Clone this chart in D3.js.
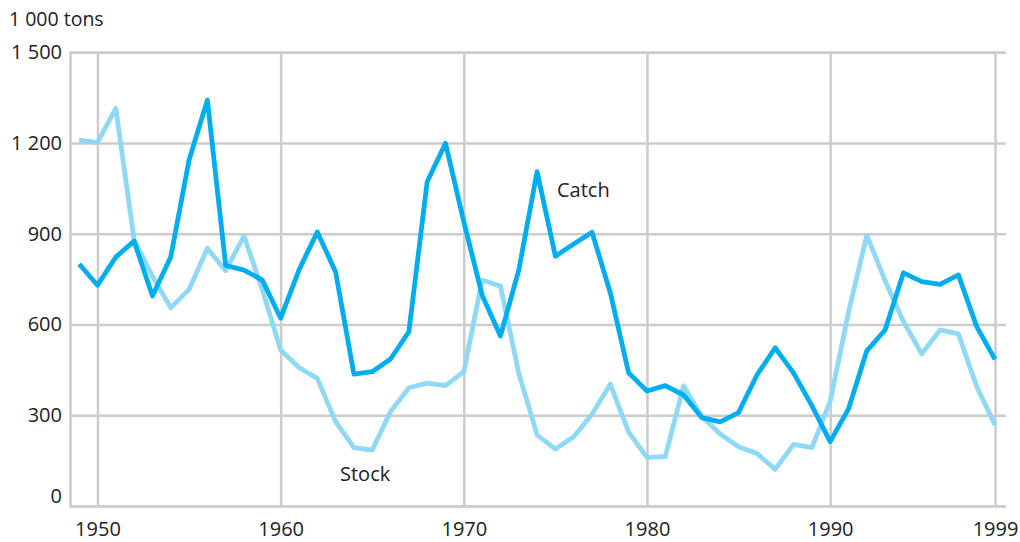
<!DOCTYPE html>
<html>
<head>
<meta charset="utf-8">
<script src="https://cdnjs.cloudflare.com/ajax/libs/d3/7.8.5/d3.min.js"></script>
<style>
  body { margin: 0; background: #fff; }
  svg text { font-family: "Open Sans", "Noto Sans", sans-serif; fill: #222; }
</style>
</head>
<body>
<div id="chart"></div>
<script>
// data (1 000 tons)
var years = d3.range(1949, 2000);
var catchVals = [800, 730, 823, 876, 694, 823, 1144, 1342, 795, 780,
  747, 621, 780, 906, 774, 436, 444, 486, 576, 1072,
  1199, 940, 697, 562, 780, 1105, 826, 866, 905, 704,
  440, 380, 398, 367, 292, 278, 309, 433, 523, 440,
  332, 213, 321, 513, 582, 771, 742, 733, 764, 593, 485];
var stockVals = [1210, 1201, 1315, 880, 760, 655, 716, 852, 778, 893,
  715, 516, 458, 422, 279, 193, 185, 312, 391, 406,
  398, 444, 747, 727, 439, 235, 188, 229, 303, 403,
  244, 161, 163, 397, 295, 238, 196, 174, 121, 204,
  193, 345, 640, 895, 745, 610, 503, 582, 569, 395, 268];
var xTicks = [1950, 1960, 1970, 1980, 1990, 1999];
var yTicks = [0, 300, 600, 900, 1200, 1500];

var svgWidth = 1020, svgHeight = 542;

var svg = d3.select('#chart')
  .append("svg")
  .attr('width', svgWidth)
  .attr('height', svgHeight);

var x = d3.scaleLinear().domain([1948.5, 1999.6]).range([70, 1006]);
var y = d3.scaleLinear().domain([0, 1500]).range([506, 52.3]);

var gridColor = "#cccccc";

// horizontal grid + y labels
var yAxis = svg.append("g")
  .attr("transform", "translate(70,0)")
  .call(d3.axisLeft(y).tickValues(yTicks).tickSize(-936).tickPadding(8)
    .tickFormat(function(d){ return d3.format(",")(d).replace(",", " "); }));
yAxis.select(".domain").attr("stroke", gridColor).attr("stroke-width", 2.5);
yAxis.selectAll(".tick line").attr("stroke", gridColor).attr("stroke-width", 2.5);
yAxis.selectAll(".tick text")
  .attr("font-size", 20)
  .attr("dy", function(d){ return d === 0 ? "-0.18em" : "0.32em"; })
  .attr("x", -8);

// vertical grid + x labels
var xAxis = svg.append("g")
  .attr("transform", "translate(0,506)")
  .call(d3.axisBottom(x).tickValues(xTicks).tickSize(-454).tickPadding(16)
    .tickFormat(d3.format("d")));
xAxis.select(".domain").remove();
xAxis.selectAll(".tick line").attr("stroke", gridColor).attr("stroke-width", 2.5);
xAxis.selectAll(".tick text").attr("font-size", 20);

// unit label
svg.append("text")
  .attr("x", 9)
  .attr("y", 26)
  .attr("font-size", 19.5)
  .text("1 000 tons");

var line = d3.line()
  .x(function(d){ return x(d[0]); })
  .y(function(d){ return y(d[1]); });

svg.append("path")
  .datum(d3.zip(years, stockVals))
  .attr("fill", "none")
  .attr("stroke", "#8fd9f7")
  .attr("stroke-width", 4.8)
  .attr("stroke-linejoin", "round")
  .attr("d", line);

svg.append("path")
  .datum(d3.zip(years, catchVals))
  .attr("fill", "none")
  .attr("stroke", "#00aeef")
  .attr("stroke-width", 4.8)
  .attr("stroke-linejoin", "round")
  .attr("d", line);

svg.append("text")
  .attr("x", 557)
  .attr("y", 197)
  .attr("font-size", 20)
  .text("Catch");

svg.append("text")
  .attr("x", 340)
  .attr("y", 481)
  .attr("font-size", 20)
  .text("Stock");
</script>
</body>
</html>
